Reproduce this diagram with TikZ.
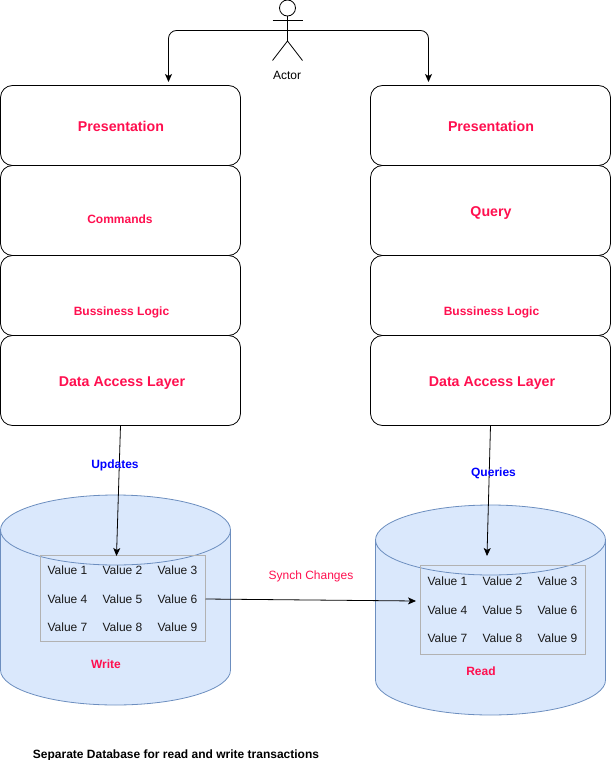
\documentclass[tikz,border=0pt]{standalone}
\usepackage{fontspec}
\setmainfont{Liberation Sans}
\usetikzlibrary{arrows.meta}
\definecolor{hot}{HTML}{FF0F4F}
\definecolor{dbfill}{HTML}{DAE8FC}
\definecolor{dbline}{HTML}{6C8EBF}
\tikzset{
  layer/.style={draw=black,line width=0.8pt,rounded corners=12pt,minimum width=240pt,inner sep=0pt,outer sep=0pt,anchor=north west},
  label/.style={inner sep=0pt,font=\bfseries\fontsize{12}{14}\selectfont},
  biglabel/.style={inner sep=0pt,text=hot,font=\bfseries\fontsize{14.2}{16}\selectfont},
  val/.style={inner sep=0pt,text=black!90,font=\fontsize{12}{14}\selectfont},
  tbl/.style={draw=black!30,line width=0.8pt,inner sep=0pt,outer sep=0pt,minimum width=165pt,anchor=north west},
  db/.style={draw=dbline,fill=dbfill,line width=0.8pt},
  conn/.style={draw=black,line width=0.8pt,-{Stealth[length=8pt,width=7pt,inset=2pt]}},
  stick/.style={draw=black,line width=0.8pt}
}
\begin{document}
\begin{tikzpicture}[x=1pt,y=-1pt]
\useasboundingbox (0,0) rectangle (611,760);
% layer stacks
\node[layer,minimum height=80pt] (lp) at (0.5,85.5) {};
\node[layer,minimum height=90pt] (lc) at (0.5,165.5) {};
\node[layer,minimum height=80pt] (lb) at (0.5,255.5) {};
\node[layer,minimum height=90pt] (ld) at (0.5,335.5) {};
\node[layer,minimum height=80pt] (rp) at (370.5,85.5) {};
\node[layer,minimum height=90pt] (rq) at (370.5,165.5) {};
\node[layer,minimum height=80pt] (rb) at (370.5,255.5) {};
\node[layer,minimum height=90pt] (rd) at (370.5,335.5) {};
\node[biglabel] (t1) at (121,126) {Presentation};
\node[label,text=hot] (t2) at (120,219) {Commands};
\node[label,text=hot] (t3) at (121.5,312) {Bussiness Logic};
\node[biglabel] (t4) at (122,383) {Data Access Layer};
\node[biglabel] (t5) at (491,126) {Presentation};
\node[biglabel] (t6) at (491,213) {Query};
\node[label,text=hot] (t7) at (491.5,312) {Bussiness Logic};
\node[biglabel] (t8) at (492,383) {Data Access Layer};
% cylinders
\path[db] (0.5,530) arc[start angle=180,end angle=360,x radius=115,y radius=35] -- (230.5,670) arc[start angle=0,end angle=180,x radius=115,y radius=35] -- cycle;
\draw[db,fill=none] (0.5,530) arc[start angle=180,end angle=0,x radius=115,y radius=35];
\path[db] (375.5,540) arc[start angle=180,end angle=360,x radius=115,y radius=35] -- (605.5,680) arc[start angle=0,end angle=180,x radius=115,y radius=35] -- cycle;
\draw[db,fill=none] (375.5,540) arc[start angle=180,end angle=0,x radius=115,y radius=35];
% tables
\node[tbl,minimum height=86pt] (tw) at (40.5,555.5) {};
\node[tbl,minimum height=89pt] (tr) at (420.5,565.5) {};
\node[val] (w1) at (67.5,570.5) {Value 1};
\node[val] (w2) at (122.5,570.5) {Value 2};
\node[val] (w3) at (177.5,570.5) {Value 3};
\node[val] (w4) at (67.5,599) {Value 4};
\node[val] (w5) at (122.5,599) {Value 5};
\node[val] (w6) at (177.5,599) {Value 6};
\node[val] (w7) at (67.5,627) {Value 7};
\node[val] (w8) at (122.5,627) {Value 8};
\node[val] (w9) at (177.5,627) {Value 9};
\node[val] (r1) at (447.5,581.5) {Value 1};
\node[val] (r2) at (502.5,581.5) {Value 2};
\node[val] (r3) at (557.5,581.5) {Value 3};
\node[val] (r4) at (447.5,610) {Value 4};
\node[val] (r5) at (502.5,610) {Value 5};
\node[val] (r6) at (557.5,610) {Value 6};
\node[val] (r7) at (447.5,638.5) {Value 7};
\node[val] (r8) at (502.5,638.5) {Value 8};
\node[val] (r9) at (557.5,638.5) {Value 9};
% actor
\node[draw=black,line width=0.8pt,circle,minimum size=16pt,inner sep=0pt,outer sep=0pt] (head) at (287.5,8) {};
\coordinate (neck) at (287.5,41);
\draw[stick] (head.south) -- (neck);
\coordinate (armL) at (272.5,20.5);
\coordinate (armR) at (302.5,20.5);
\coordinate (legL) at (272.5,60.5);
\coordinate (legR) at (302.5,60.5);
\draw[stick] (armL) -- (armR);
\draw[stick] (legL) -- (neck) -- (legR);
\node[inner sep=0pt,font=\fontsize{12}{14}\selectfont] (actor) at (287,75) {Actor};
% connectors
\coordinate (hub) at (287.5,30.5);
\coordinate (inL) at (168.5,82);
\coordinate (inR) at (428.5,82);
\draw[conn,rounded corners=8pt] (hub) -| (inL);
\draw[conn,rounded corners=8pt] (hub) -| (inR);
\coordinate (dl) at (120.5,425.5);
\coordinate (dr) at (490.5,425.5);
\coordinate (wt) at (116.5,556);
\coordinate (rt) at (487,556);
\coordinate (rin) at (416,601);
\draw[conn] (dl) -- (wt);
\draw[conn] (dr) -- (rt);
\draw[conn] (tw.east |- 0,599) -- (rin);
% labels
\node[label,text=blue] (updates) at (115,465.5) {Updates};
\node[label,text=blue] (queries) at (493.5,473.5) {Queries};
\node[inner sep=0pt,text=hot,font=\fontsize{12}{14}\selectfont] (sync) at (311,576.5) {Synch Changes};
\node[label,text=hot] (write) at (106,664) {Write};
\node[label,text=hot] (read) at (481,671) {Read};
\node[label,text=black] (cap) at (176,755) {Separate Database for read and write transactions};
\end{tikzpicture}
\end{document}
